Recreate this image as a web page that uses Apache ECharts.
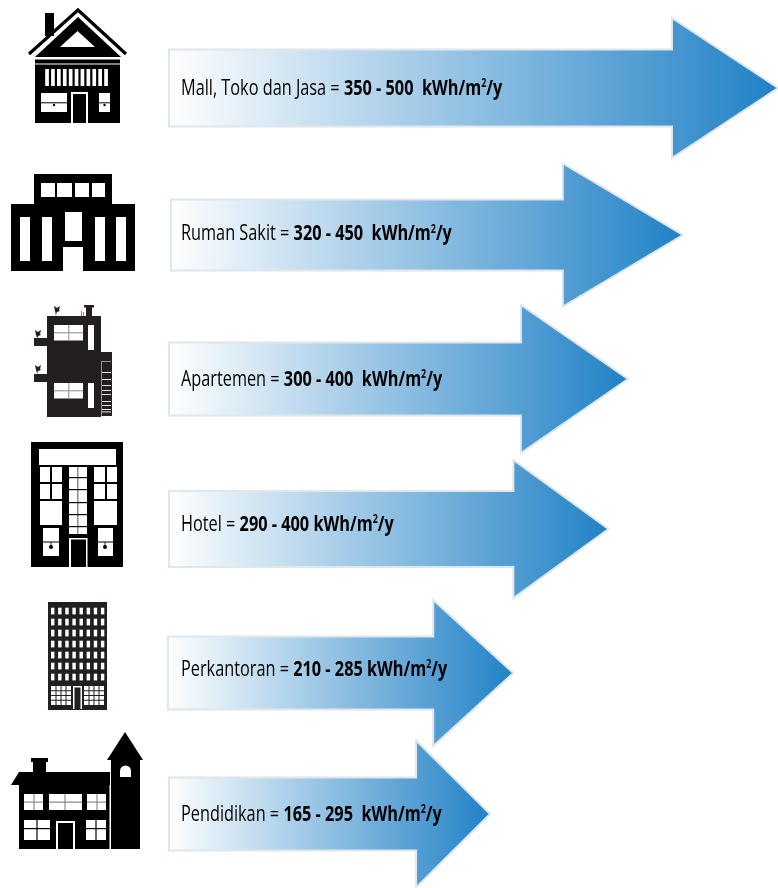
<!DOCTYPE html>
<html>
<head>
<meta charset="utf-8">
<style>html,body{margin:0;padding:0;background:#fff}#chart{width:778px;height:888px}</style>
<script src="https://cdn.jsdelivr.net/npm/echarts@6/dist/echarts.min.js"></script>
</head>
<body>
<div id="chart"></div>
<script>
// Energy use intensity by building type, in kWh/m2/y.
const categories = ['Mall, Toko dan Jasa', 'Ruman Sakit', 'Apartemen', 'Hotel', 'Perkantoran', 'Pendidikan'];
const rangeLow = [350, 320, 300, 290, 210, 165];
const rangeHigh = [500, 450, 400, 400, 285, 295];
const arrowLength = [500, 422, 377, 361, 283, 264];
const unitGap = ['  ', '  ', '  ', ' ', ' ', '  '];

// Arrow proportions per row, in pixels.
const arrowShape = [
  { nudge: 0,   start: 1, body: 38.5, head: 70,   len: 106 },
  { nudge: 1.8, start: 3, body: 35.5, head: 71.5, len: 120 },
  { nudge: 0.6, start: 1, body: 36.5, head: 74,   len: 107 },
  { nudge: 5.4, start: 1, body: 38,   head: 69,   len: 95 },
  { nudge: 4.2, start: 0, body: 36.5, head: 73,   len: 80 },
  { nudge: 0,   start: 1, body: 36.5, head: 73.5, len: 74 }
];

const labelFont = '"Open Sans", sans-serif';
const richText = {
  n: { fontFamily: labelFont, fontSize: 22, color: '#111111' },
  b: { fontFamily: labelFont, fontSize: 22, fontWeight: 'bold', color: '#111111' },
  s: { fontFamily: labelFont, fontSize: 12, fontWeight: 'bold', color: '#111111', verticalAlign: 'top' }
};

function renderArrow(params, api) {
  const i = params.dataIndex;
  const s = arrowShape[i];
  const tip = api.coord([api.value(0), i]);
  const x0 = api.coord([0, i])[0] + s.start;
  const y = tip[1] + s.nudge;
  const neck = tip[0] - s.len;
  const text = '{n|' + categories[i] + ' = }{b|' + rangeLow[i] + ' - ' + rangeHigh[i] + unitGap[i] + 'kWh/m}{s|2}{b|/y}';
  return {
    type: 'group',
    children: [
      {
        type: 'polygon',
        shape: { points: [
          [x0, y - s.body], [neck, y - s.body], [neck, y - s.head], [tip[0], y],
          [neck, y + s.head], [neck, y + s.body], [x0, y + s.body]
        ] },
        style: {
          fill: new echarts.graphic.LinearGradient(0, 0, 1, 0, [
            { offset: 0, color: '#ffffff' },
            { offset: 1, color: '#2081c6' }
          ]),
          stroke: '#dfe6ec',
          lineWidth: 2
        }
      },
      {
        type: 'text',
        x: api.coord([0, i])[0] + 13,
        y: tip[1] + 1,
        scaleX: 0.74,
        style: { text: text, rich: richText, align: 'left', verticalAlign: 'middle' },
        z2: 5
      }
    ]
  };
}

// Building silhouettes drawn from small rectangles and polygons.
const K = '#000000', D = '#231f20', W = '#ffffff', G = '#8a8a8a';
const R = (x, y, w, h, fill) => ({ type: 'rect', shape: { x, y, width: w, height: h }, style: { fill } });
const box = (x0, y0, x1, y1, fill) => R(x0, y0, x1 - x0, y1 - y0, fill);
const P = (points, fill) => ({ type: 'polygon', shape: { points }, style: { fill } });
const dot = (cx, cy, r, fill) => ({ type: 'circle', shape: { cx, cy, r }, style: { fill } });

function houseIcon() {
  const e = [
    box(45, 13, 54, 36, K),
    { type: 'polyline', shape: { points: [[29, 54], [78, 10], [126, 54]] }, style: { stroke: K, lineWidth: 3.2, fill: null } },
    P([[35, 57], [78, 17], [121, 57]], K),
    P([[60, 47], [77.5, 31], [95, 47]], W),
    box(35, 59.5, 120, 63.5, K),
    box(35, 64.5, 120, 123, K)
  ];
  for (let c = 0; c < 11; c++) e.push(R(45.2 + c * 5.9, 69, 3.7, 17, W));
  e.push(box(41, 93, 67, 112, W), box(41, 102.3, 67, 103.3, K), dot(54, 105, 1.2, K));
  e.push(box(71, 92, 88, 123, W), box(73, 94, 86, 123, K));
  e.push(box(99, 93, 110, 112, W), box(99, 102.3, 110, 103.3, K), dot(104.5, 105, 1.2, K));
  return e;
}

function hospitalIcon() {
  const e = [box(34, 174, 112, 205, K), box(11, 204, 135, 271, K)];
  [[41, 55], [57, 72], [75, 89], [92, 105]].forEach(([a, b]) => e.push(box(a, 183, b, 197, W)));
  [[20, 30], [42, 52], [95, 105], [116, 126]].forEach(([a, b]) => e.push(box(a, 217, b, 261, W)));
  e.push(box(65, 212, 82, 241, W), box(63, 247, 83, 271, W));
  return e;
}

function bird(x, y) {
  return P([[x - 3, y - 4], [x, y - 2], [x + 3, y - 4], [x + 2, y], [x + 3, y + 1], [x, y + 2], [x - 1, y + 4], [x - 2, y + 1]], D);
}

function apartmentIcon() {
  const e = [
    box(47, 316, 101, 417, D),
    box(34, 338, 47, 346, D),
    box(34, 374, 47, 382, D),
    box(101, 352, 112, 416, D),
    box(86, 307, 92, 316, D),
    box(84, 305, 94, 307.5, D),
    box(81, 311, 82, 316, G),
    box(83, 312, 84, 316, G),
    box(55.5, 312, 56.3, 316, G),
    box(37.5, 336, 38.3, 338, G),
    box(37.5, 372, 38.3, 374, G),
    bird(57, 310), bird(38, 334), bird(38, 369)
  ];
  [325, 383].forEach(y => {
    e.push(box(54, y, 83, y + 15.5, W), box(68.3, y, 69.3, y + 15.5, G), box(54, y + 7.3, 83, y + 8.3, G));
  });
  e.push(box(88, 325, 94, 350, W), box(88, 383, 94, 408, W));
  e.push(box(101.2, 361, 102, 416, '#b0b0b0'), box(102, 361, 111, 361.8, '#b0b0b0'));
  [372, 379, 385, 390, 394, 401, 405, 409, 411.5].forEach(y => e.push(box(102, y, 111, y + 0.9, W)));
  return e;
}

function hotelIcon() {
  const e = [box(31, 442, 123, 567, K), box(39, 449, 116, 465, W)];
  [[40, 62, 51], [94, 117, 106]].forEach(([a, b, v]) => {
    e.push(box(a, 467, b, 499, W), box(v - 1, 467, v + 1, 499, K), box(a, 482, b, 484, K));
    e.push(box(a, 501, b, 525, W));
  });
  e.push(box(69, 467, 87, 534, W), box(77, 467, 78.5, 534, G));
  [477, 489, 502, 514, 526].forEach(y => e.push(box(69, y, 87, y + 1.2, K)));
  [[43, 59, 51], [98, 113, 105]].forEach(([a, b, c]) => {
    e.push(box(a, 528, b, 556, W), box(a, 541.5, b, 542.5, K), box(c - 0.4, 542, c + 0.4, 547, K), dot(c, 547, 2, K));
  });
  e.push(box(69, 538, 87.5, 567, W), box(71, 539.5, 86, 567, K));
  return e;
}

function officeIcon() {
  const e = [box(48, 602, 107, 710, D)];
  for (let r = 0; r < 7; r++) {
    for (let c = 0; c < 8; c++) e.push(R(51 + c * 7.13, 607.7 + r * 11, 3.4, 6.7, W));
  }
  [51, 84].forEach(x => {
    e.push(R(x, 686, 20, 19, W));
    for (let c = 1; c < 4; c++) e.push(R(x + c * 5 - 0.5, 686, 1, 19, D));
    for (let r = 1; r < 4; r++) e.push(R(x, 686 + r * 4.75 - 0.5, 20, 1, D));
  });
  e.push(box(73, 686, 82, 709, W), box(74.5, 687.5, 80.5, 710, D));
  return e;
}

function schoolIcon() {
  const e = [
    box(33, 761, 46, 773, K),
    box(31, 758, 48, 762, K),
    P([[19, 772], [110, 772], [110, 785], [11, 785]], K),
    box(19, 785, 109.5, 849, K),
    box(111, 760, 140, 849, K),
    P([[107, 760], [125, 732], [143, 760]], K),
    box(120, 771, 131, 777, W),
    dot(125.5, 771, 5.5, W)
  ];
  [[24, 43, 34, 794, 810, 801.5], [49, 82, 65, 794, 810, 801.5], [87, 106, 97, 794, 810, 801.5],
   [24, 50, 37, 820, 840, 828], [86, 106, 96, 820, 840, 828]].forEach(([a, b, v, t, u, h]) => {
    e.push(box(a, t, b, u, W), box(v - 0.6, t, v + 0.6, u, t < 815 ? G : K), box(a, h, b, h + 1.2, t < 815 ? G : K));
  });
  e.push(box(56, 821, 75, 849, W), box(58, 823, 73, 849, K));
  return e;
}

const chart = echarts.init(document.getElementById('chart'), null, { renderer: 'canvas' });
chart.setOption({
  animation: false,
  backgroundColor: '#ffffff',
  grid: { left: 168, right: 0, top: 15.4, height: 871.2 },
  xAxis: { type: 'value', min: 0, max: 500, show: false },
  yAxis: { type: 'category', inverse: true, data: categories, show: false },
  graphic: [houseIcon, hospitalIcon, apartmentIcon, hotelIcon, officeIcon, schoolIcon].map(fn => ({
    type: 'group', silent: true, children: fn()
  })),
  series: [{
    type: 'custom',
    coordinateSystem: 'cartesian2d',
    clip: false,
    encode: { x: 0, y: 1 },
    data: arrowLength.map((v, i) => [v, i]),
    renderItem: renderArrow
  }]
});
</script>
</body>
</html>
